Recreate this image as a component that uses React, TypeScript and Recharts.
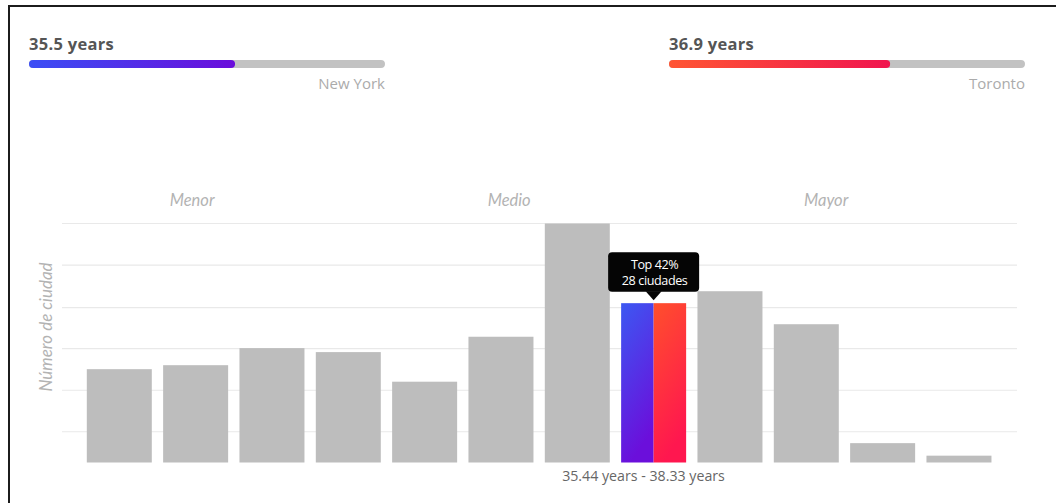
import React from 'react';
import { BarChart, Bar, XAxis, YAxis, CartesianGrid } from 'recharts';

// ---- data ----
const categories = ['1', '2', '3', '4', '5', '6', '7', '8', '9', '10', '11', '12'];
const cityCounts = [16.4, 17.1, 20.1, 19.4, 14.2, 22.1, 42, 28, 30.1, 24.3, 3.4, 1.2];
const gridTicks = [5.4, 12.7, 20, 27.2, 34.7, 42];
const yMax = 42;
const highlightIndex = 7;
const highlightRange = '35.44 years - 38.33 years';
const tooltipLines = ['Top 42%', '28 ciudades'];
const regionLabels = ['Menor', 'Medio', 'Mayor'];
const yAxisTitle = 'Número de ciudad';
const cityNames = ['New York', 'Toronto'];
const cityAges = [35.5, 36.9];
const ageDomain = [16.4, 49.4];

const data = categories.map((c, i) => ({ bin: c, cities: cityCounts[i] }));

const FONT = '"Open Sans", "Noto Sans", sans-serif';
const ITALIC_FONT = 'Lato, "Open Sans", sans-serif';

const BarShape = (props: any) => {
  const { x, y, width, height, index } = props;
  if (index === highlightIndex) {
    const half = width / 2;
    return (
      <g>
        <rect x={x} y={y} width={half} height={height} fill="url(#gradBlueV)" />
        <rect x={x + half} y={y} width={width - half} height={height} fill="url(#gradRedV)" />
      </g>
    );
  }
  return <rect x={x} y={y} width={width} height={height} fill="#bdbdbd" />;
};

const TooltipLabel = (props: any) => {
  const { x, y, width, index } = props;
  if (index !== highlightIndex) return null;
  const cx = x + width / 2;
  const boxW = 91;
  const boxH = 39.5;
  const boxTop = y - 51;
  return (
    <g>
      <rect x={cx - boxW / 2} y={boxTop} width={boxW} height={boxH} rx={4} ry={4} fill="#050505" />
      <path d={`M${cx - 8},${boxTop + boxH - 0.5} L${cx + 8},${boxTop + boxH - 0.5} L${cx},${y - 3} Z`} fill="#050505" />
      <text x={cx + 1} y={boxTop + 17} textAnchor="middle" fill="#fff" fontSize={12.6} fontFamily={FONT} letterSpacing={-0.4}>
        {tooltipLines[0]}
      </text>
      <text x={cx + 1} y={boxTop + 33} textAnchor="middle" fill="#fff" fontSize={12.6} fontFamily={FONT} letterSpacing={-0.4}>
        {tooltipLines[1]}
      </text>
    </g>
  );
};

const RangeTick = (props: any) => {
  const { x, y, payload } = props;
  if (payload && payload.index === highlightIndex) {
    return (
      <text x={x - 10} y={y} dy="0.71em" textAnchor="middle" fill="#666" fontSize={14.2} fontFamily={FONT}>
        {highlightRange}
      </text>
    );
  }
  return <g />;
};

const headerStyle: React.CSSProperties = {
  position: 'absolute',
  fontFamily: FONT,
  fontWeight: 700,
  fontSize: 16.5,
  letterSpacing: 0.3,
  lineHeight: '18px',
  color: '#555',
  whiteSpace: 'nowrap',
};

const nameStyle: React.CSSProperties = {
  position: 'absolute',
  fontFamily: FONT,
  fontWeight: 400,
  fontSize: 15,
  lineHeight: '18px',
  color: '#ababab',
  textAlign: 'right',
  whiteSpace: 'nowrap',
};

function AgeBar({ i, left, gradId, c1, c2 }: { i: number; left: number; gradId: string; c1: string; c2: string }) {
  return (
    <>
      <div style={{ ...headerStyle, left, top: 35 }}>{cityAges[i].toFixed(1)} years</div>
      <div style={{ position: 'absolute', left, top: 60 }}>
        <BarChart
          width={356}
          height={9}
          data={[{ name: cityNames[i], age: cityAges[i] }]}
          layout="vertical"
          margin={{ top: 0, right: 0, bottom: 0, left: 0 }}
        >
          <defs>
            <linearGradient id={gradId} x1="0" y1="0" x2="1" y2="0">
              <stop offset="0%" stopColor={c1} />
              <stop offset="100%" stopColor={c2} />
            </linearGradient>
          </defs>
          <XAxis type="number" domain={ageDomain} hide allowDataOverflow />
          <YAxis type="category" dataKey="name" hide />
          <Bar
            dataKey="age"
            barSize={9}
            radius={4.5}
            fill={`url(#${gradId})`}
            background={{ fill: '#c2c2c2', radius: 4.5 } as any}
            isAnimationActive={false}
          />
        </BarChart>
      </div>
      <div style={{ ...nameStyle, left, top: 74, width: 356 }}>{cityNames[i]}</div>
    </>
  );
}

export default function App() {
  return (
    <div
      style={{
        position: 'absolute',
        left: 0,
        top: 0,
        width: 1056,
        height: 503,
        background: '#fff',
        overflow: 'hidden',
      }}
    >
      <div
        style={{
          position: 'absolute',
          left: 8,
          top: 5,
          width: 1060,
          height: 510,
          borderTop: '2px solid #1c1c1c',
          borderLeft: '2px solid #1c1c1c',
        }}
      />
      <AgeBar i={0} left={29} gradId="gradNY" c1="#3b4ef5" c2="#6a0ddb" />
      <AgeBar i={1} left={669} gradId="gradTO" c1="#ff5533" c2="#f0154f" />

      {regionLabels.map((r, k) => (
        <div
          key={r}
          style={{
            position: 'absolute',
            left: 33 + k * 317,
            width: 318.3,
            top: 191,
            textAlign: 'center',
            fontFamily: ITALIC_FONT,
            fontStyle: 'italic',
            fontSize: 16.5,
            lineHeight: '18px',
            color: '#b3b3b3',
          }}
        >
          {r}
        </div>
      ))}

      <div
        style={{
          position: 'absolute',
          left: 46 - 100,
          top: 327 - 9,
          width: 200,
          height: 18,
          textAlign: 'center',
          transform: 'rotate(-90deg)',
          fontFamily: ITALIC_FONT,
          fontStyle: 'italic',
          fontSize: 17,
          lineHeight: '18px',
          color: '#b3b3b3',
          whiteSpace: 'nowrap',
        }}
      >
        {yAxisTitle}
      </div>

      <div style={{ position: 'absolute', left: 0, top: 180 }}>
        <BarChart
          width={1056}
          height={320}
          data={data}
          margin={{ top: 43.5, right: 39, bottom: 7.5, left: 62 }}
          barCategoryGap={5.8}
        >
          <defs>
            <linearGradient id="gradBlueV" x1="0" y1="0" x2="0.3" y2="1">
              <stop offset="0%" stopColor="#3c58f2" />
              <stop offset="100%" stopColor="#6b0fdb" />
            </linearGradient>
            <linearGradient id="gradRedV" x1="0" y1="0" x2="0.3" y2="1">
              <stop offset="0%" stopColor="#ff4f2c" />
              <stop offset="100%" stopColor="#ff174f" />
            </linearGradient>
          </defs>
          <CartesianGrid
            vertical={false}
            stroke="#e9e9e9"
            strokeWidth={1.2}
            horizontalCoordinatesGenerator={(args: any) => {
              const off = args && args.offset ? args.offset : { top: 43.5, height: 239 };
              return gridTicks.map((t) => off.top + off.height * (1 - t / yMax));
            }}
          />
          <XAxis
            dataKey="bin"
            axisLine={false}
            tickLine={false}
            stroke="none"
            padding={{ left: 19, right: 20 }}
            tick={<RangeTick />}
            interval={0}
            height={30}
          />
          <YAxis hide domain={[0, yMax]} ticks={gridTicks} />
          <Bar dataKey="cities" shape={<BarShape />} label={<TooltipLabel />} isAnimationActive={false} />
        </BarChart>
      </div>
    </div>
  );
}
